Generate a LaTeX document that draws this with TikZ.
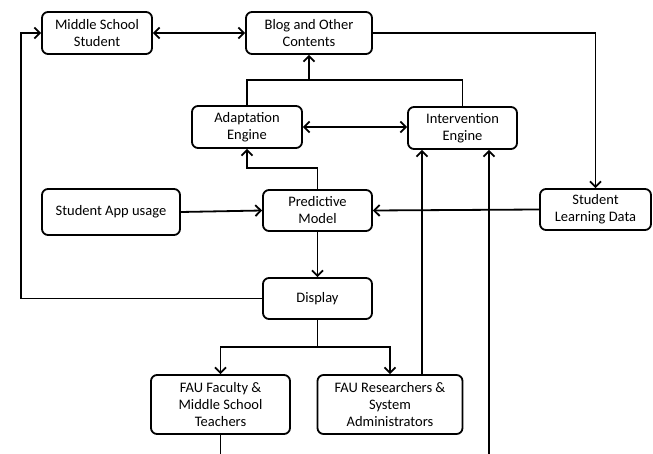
\documentclass[tikz,border=0pt]{standalone}
\usepackage{fontspec}
\setmainfont{Carlito}
\usetikzlibrary{arrows.meta}
\begin{document}
\begin{tikzpicture}[x=1pt,y=-1pt,
  box/.style={draw, line width=1.8pt, rounded corners=6pt, align=center,
    font=\fontsize{14.5}{17}\selectfont, inner sep=0pt},
  wire/.style={line width=1.8pt},
  tip/.style={},
  conn/.style={wire, -{Straight Barb[length=5.5pt,width=11pt,line width=1.8pt]}},
  both/.style={wire, {Straight Barb[length=5.5pt,width=11pt,line width=1.8pt]}-{Straight Barb[length=5.5pt,width=11pt,line width=1.8pt]}},
]
\useasboundingbox (0,0) rectangle (653,454);
\node[box, minimum width=110pt, minimum height=42pt] (mss) at (97,33) {Middle School\\Student};
\node[box, minimum width=126pt, minimum height=42pt] (blog) at (309,33) {Blog and Other\\Contents};
\node[box, minimum width=110pt, minimum height=42pt] (adapt) at (247,127) {Adaptation\\Engine};
\node[box, minimum width=109pt, minimum height=42pt] (interv) at (462.5,128) {Intervention\\Engine};
\node[box, minimum width=138pt, minimum height=46pt] (app) at (111,212) {Student App usage};
\node[box, minimum width=109pt, minimum height=41pt] (pred) at (317.5,210.5) {Predictive\\Model};
\node[box, minimum width=111pt, minimum height=41pt] (sld) at (595.5,209.5) {Student\\Learning Data};
\node[box, minimum width=109pt, minimum height=41pt] (disp) at (317.5,298.5) {Display};
\node[box, minimum width=139pt, minimum height=59pt] (fac) at (220.5,404.5) {FAU Faculty \&\\Middle School\\Teachers};
\node[box, minimum width=145pt, minimum height=59pt] (res) at (390,404.5) {FAU Researchers \&\\System\\Administrators};

\coordinate (m1) at (309,80);
\coordinate (m2) at (317.5,168);
\coordinate (lft) at (21,298.5);
\coordinate (m3) at (317.5,347);
\coordinate (b1) at (220.5,455);
\coordinate (b2) at (489,455);

\draw[both] (mss) -- (blog);
\draw[conn] (blog.east) -| (sld.north);
\draw[wire] (adapt.north) -- (adapt.north |- m1) -| (interv.north);
\draw[conn] (m1) -- (blog.south);
\draw[both] (adapt.east) -- (adapt.east -| interv.west);
\draw[conn] (pred.north) -- (m2) -| (adapt.south);
\draw[conn] (app.east) -- (pred.west);
\draw[conn] (sld.west) -- (pred.east);
\draw[conn] (pred) -- (disp);
\draw[conn] (disp.west) -- (lft) |- (mss.west);
\draw[wire] (disp.south) -- (m3);
\draw[conn] (m3) -| (fac.north);
\draw[conn] (m3) -| (res.north);
\draw[conn] ([xshift=32pt]res.north) -- ([xshift=32pt]res.north |- interv.south);
\draw[conn] (fac.south) -- (b1) -- (b2) -- (b2 |- interv.south);
\end{tikzpicture}
\end{document}
